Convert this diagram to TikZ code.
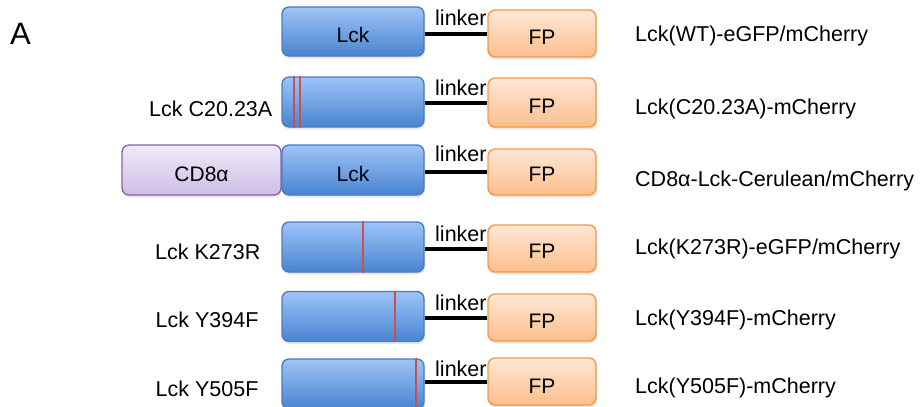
\documentclass[tikz,border=0pt]{standalone}
\usepackage{fontspec}
\setmainfont{Liberation Sans}
\usetikzlibrary{shadows,calc}
\definecolor{bluetop}{RGB}{158,196,248}
\definecolor{bluebot}{RGB}{72,132,208}
\definecolor{blueline}{RGB}{74,122,190}
\definecolor{ortop}{RGB}{255,232,214}
\definecolor{orbot}{RGB}{251,190,140}
\definecolor{orline}{RGB}{246,150,70}
\definecolor{putop}{RGB}{240,234,249}
\definecolor{pubot}{RGB}{206,190,230}
\definecolor{puline}{RGB}{130,100,170}
\definecolor{mutred}{RGB}{200,80,77}
\tikzset{
  box/.style={rounded corners=7pt, line width=1.3pt, inner sep=0pt,
    font=\fontsize{21}{25}\selectfont, text depth=0pt,
    drop shadow={opacity=0.18, shadow xshift=1pt, shadow yshift=-2.5pt}},
  lckbox/.style={box, draw=blueline, top color=bluetop, bottom color=bluebot,
    minimum width=142pt, minimum height=50pt, text height=21.5pt},
  fpbox/.style={box, draw=orline, top color=ortop, bottom color=orbot,
    minimum width=108pt, minimum height=47pt, text height=21pt},
  cdbox/.style={box, draw=puline, top color=putop, bottom color=pubot,
    minimum width=159pt, minimum height=50pt, text height=23pt},
  linkline/.style={line width=4pt, black},
  linktext/.style={font=\fontsize{21.5}{25}\selectfont, inner sep=0pt, anchor=base west},
  mut/.style={draw=mutred, line width=1.5pt},
  lab/.style={font=\fontsize{21.5}{25}\selectfont, inner sep=0pt, anchor=base west},
}
\begin{document}
\begin{tikzpicture}[x=1pt,y=-1pt]
\useasboundingbox (0,0) rectangle (924,407);
\node[font=\fontsize{31}{36}\selectfont, inner sep=0pt, anchor=base west] (A) at (10,44) {A};

% linker texts (drawn first, FP boxes cover them slightly)
\node[linktext] (t1) at (435,25) {linker};
\node[linktext] (t2) at (435,95) {linker};
\node[linktext] (t3) at (435,161.7) {linker};
\node[linktext] (t4) at (435,241.7) {linker};
\node[linktext] (t5) at (435,310) {linker};
\node[linktext] (t6) at (435,376.7) {linker};

% CD8 alpha
\node[cdbox] (cd) at (201.5,170) {CD8α};

% Lck boxes
\node[lckbox, minimum height=49pt] (l1) at (353,31.5) {Lck};
\node[lckbox] (l2) at (353,102) {};
\node[lckbox, text height=23pt] (l3) at (353,170) {Lck};
\node[lckbox] (l4) at (353,247) {};
\node[lckbox] (l5) at (353,316.5) {};
\node[lckbox] (l6) at (353,384) {};

% FP boxes
\node[fpbox, text height=22.5pt] (f1) at (542,33.5) {FP};
\node[fpbox, minimum height=49pt] (f2) at (542,102.5) {FP};
\node[fpbox, minimum height=46pt, text height=19.5pt] (f3) at (542,172) {FP};
\node[fpbox, text height=19.5pt] (f4) at (542,248.5) {FP};
\node[fpbox] (f5) at (542,317.5) {FP};
\node[fpbox, text height=23pt] (f6) at (542,381.5) {FP};

% linkers
\foreach \i in {1,...,6}{
  \draw[linkline] (f\i.west -| l\i.east) -- (f\i.west);
}

% mutation marks
\draw[mut] ([xshift=-59pt]l2.north) -- ([xshift=-59pt]l2.south);
\draw[mut] ([xshift=-53pt]l2.north) -- ([xshift=-53pt]l2.south);
\draw[mut] ([xshift=10pt]l4.north) -- ([xshift=10pt]l4.south);
\draw[mut] ([xshift=42pt]l5.north) -- ([xshift=42pt]l5.south);
\draw[mut] ([xshift=63pt]l6.north) -- ([xshift=63pt]l6.south);

% left labels
\node[lab] (m2) at (149,116.7) {Lck C20.23A};
\node[lab] (m4) at (155,259) {Lck K273R};
\node[lab] (m5) at (155.5,327.7) {Lck Y394F};
\node[lab] (m6) at (155.5,396.7) {Lck Y505F};

% right labels
\node[lab] (r1) at (635,41.7) {Lck(WT)-eGFP/mCherry};
\node[lab] (r2) at (635,114.3) {Lck(C20.23A)-mCherry};
\node[lab] (r3) at (635,186.7) {CD8α-Lck-Cerulean/mCherry};
\node[lab] (r4) at (635,254.3) {Lck(K273R)-eGFP/mCherry};
\node[lab] (r5) at (635,325) {Lck(Y394F)-mCherry};
\node[lab] (r6) at (635,393.3) {Lck(Y505F)-mCherry};
\end{tikzpicture}
\end{document}
